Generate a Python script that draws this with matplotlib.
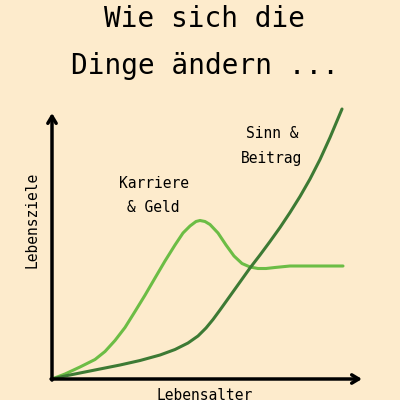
import matplotlib
matplotlib.use("Agg")
import matplotlib.pyplot as plt

# Lebensalter (0-100) vs Lebensziele (0-100)
karriere_x = [0, 4.19, 9.03, 13.87, 17.10, 20.32, 23.55, 26.77, 30.00, 33.23, 36.45, 39.68, 42.26, 44.52,
              46.45, 47.74, 49.35, 50.97, 53.55, 56.13, 58.71, 61.29, 63.87, 66.45, 69.03, 71.94, 76.77,
              83.23, 93.87]
karriere_y = [0, 1.88, 4.51, 7.33, 10.34, 14.47, 19.36, 25.37, 31.50, 37.97, 44.36, 50.38, 54.89, 57.52,
              59.21, 59.59, 59.21, 58.08, 54.89, 50.38, 46.24, 43.42, 42.11, 41.54, 41.54, 41.92, 42.48,
              42.48, 42.48]

sinn_x = [0, 4.19, 9.03, 15.48, 21.94, 28.39, 34.84, 39.68, 43.87, 47.10, 49.68, 51.94, 54.19, 57.42,
          60.65, 63.87, 67.10, 70.32, 73.55, 76.77, 80.00, 83.23, 86.45, 89.68, 93.55]
sinn_y = [0, 1.13, 2.26, 3.76, 5.26, 6.95, 9.02, 11.09, 13.53, 16.17, 19.17, 22.37, 25.94, 31.20,
          36.47, 41.73, 46.62, 51.69, 56.95, 62.59, 68.61, 75.19, 82.52, 90.79, 101.50]

bg = "#fdebcc"
fig = plt.figure(figsize=(4, 4), dpi=100, facecolor=bg)
ax = fig.add_axes([0.13, 0.0525, 0.775, 0.665])
ax.set_facecolor(bg)
ax.set_xlim(0, 100)
ax.set_ylim(0, 100)
ax.axis("off")

ax.plot(karriere_x, karriere_y, color="#6cbd45", lw=2.2, solid_capstyle="round", solid_joinstyle="round", clip_on=False)
ax.plot(sinn_x, sinn_y, color="#3d7a34", lw=2.2, solid_capstyle="round", solid_joinstyle="round", clip_on=False)

arrow = dict(arrowstyle="->,head_length=0.5,head_width=0.3", lw=2.5, color="black", shrinkA=0, shrinkB=0)
ax.annotate("", xy=(1.0, 0), xytext=(-0.003, 0), xycoords="axes fraction", arrowprops=arrow, annotation_clip=False)
ax.annotate("", xy=(0, 1.0), xytext=(0, -0.004), xycoords="axes fraction", arrowprops=arrow, annotation_clip=False)

mono = "DejaVu Sans Mono"
fig.text(0.5125, 0.953, "Wie sich die", family=mono, fontsize=20, ha="center", va="center")
fig.text(0.5125, 0.836, "Dinge ändern ...", family=mono, fontsize=20, ha="center", va="center")

fig.text(0.385, 0.5425, "Karriere", family=mono, fontsize=10.5, ha="center", va="center")
fig.text(0.384, 0.4825, "& Geld", family=mono, fontsize=10.5, ha="center", va="center")
fig.text(0.681, 0.6675, "Sinn &", family=mono, fontsize=10.5, ha="center", va="center")
fig.text(0.68, 0.605, "Beitrag", family=mono, fontsize=10.5, ha="center", va="center")
fig.text(0.08, 0.45, "Lebensziele", family=mono, fontsize=10.5, ha="center", va="center", rotation=90)
fig.text(0.5125, 0.012, "Lebensalter", family=mono, fontsize=10.5, ha="center", va="center")

fig.savefig("out.png", dpi=100, facecolor=bg)
